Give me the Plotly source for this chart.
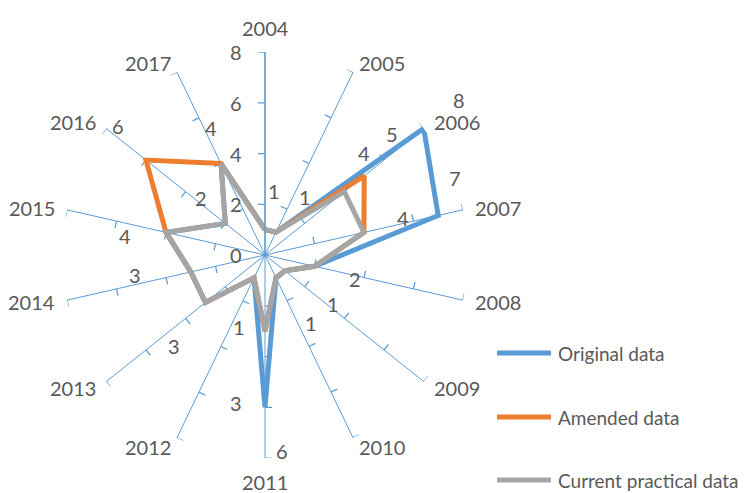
import math
import plotly.graph_objects as go

# Years around the radar, clockwise from the top
years = ["2004", "2005", "2006", "2007", "2008", "2009", "2010",
         "2011", "2012", "2013", "2014", "2015", "2016", "2017"]

original_data = [1, 1, 8, 7, 2, 1, 1, 6, 1, 3, 3, 4, 2, 4]
amended_data = [1, 1, 5, 4, 2, 1, 1, 3, 1, 3, 3, 4, 6, 4]
current_data = [1, 1, 4, 4, 2, 1, 1, 3, 1, 3, 3, 4, 2, 4]

radial_ticks = [0, 2, 4, 6, 8]
r_max = 8

# Value labels: which series / year they show, and where each is placed (r, angle in degrees)
label_series = ["cur", "cur", "cur", "amd", "org", "org", "cur", "cur", "cur", "cur",
                "cur", "org", "cur", "cur", "cur", "cur", "amd", "cur", "cur"]
label_year = ["2004", "2005", "2006", "2006", "2006", "2007", "2007", "2008", "2009", "2010",
              "2011", "2011", "2012", "2013", "2014", "2015", "2016", "2016", "2017"]
label_r = [2.55, 2.78, 5.6, 6.9, 9.78, 8.08, 5.63, 3.67, 3.3, 3.24,
           5.95, 7.76, 3.0, 5.07, 5.2, 5.57, 7.7, 3.38, 5.44]
label_angle = [8, 34.6, 44.1, 46.4, 51.3, 67.9, 75, 105, 125.8, 145.9,
               191.1, 175, 199.9, 225, 261.3, 277.7, 311.3, 311.7, 337]

BLUE = "#5B9BD5"
ORANGE = "#ED7D31"
GRAY = "#A5A5A5"
TEXT = "#595959"
FONT = "Lato"

W, H = 745, 493
cx, cy, rad_px = 265, 255, 203

step = 360 / len(years)
angles = [i * step for i in range(len(years))]


def to_paper(r, a):
    """Paper coordinates of a point given in radial units and clockwise degrees from the top."""
    px = cx + r / r_max * rad_px * math.sin(math.radians(a))
    py = cy - r / r_max * rad_px * math.cos(math.radians(a))
    return px / W, 1 - py / H


fig = go.Figure()

# Small tick marks on every spoke, on the counter-clockwise side
tick_len = 7 / rad_px * r_max
tr, tt = [], []
for a in angles:
    for v in radial_ticks[1:]:
        tr += [v, math.hypot(v, tick_len), None]
        tt += [a, a - math.degrees(math.atan(tick_len / v)), None]
fig.add_trace(go.Scatterpolar(r=tr, theta=tt, mode="lines",
                              line=dict(color=BLUE, width=1.25),
                              hoverinfo="skip", showlegend=False, cliponaxis=False))

series = [("Original data", original_data, BLUE),
          ("Amended data", amended_data, ORANGE),
          ("Current practical data", current_data, GRAY)]
for name, vals, col in series:
    fig.add_trace(go.Scatterpolar(
        r=vals + vals[:1], theta=angles + angles[:1], mode="lines", name=name,
        line=dict(color=col, width=5), showlegend=False, cliponaxis=False))

txt_font = dict(family=FONT, size=20, color=TEXT)

# Value labels
lookup = {"org": original_data, "amd": amended_data, "cur": current_data}
for s, y, r, a in zip(label_series, label_year, label_r, label_angle):
    x, yy = to_paper(r, a)
    fig.add_annotation(x=x, y=yy, xref="paper", yref="paper", showarrow=False,
                       text=str(lookup[s][years.index(y)]), font=txt_font,
                       xanchor="center", yanchor="middle")

# Year labels just beyond the end of each spoke
gap = 10 / rad_px * r_max
for a, yr in zip(angles, years):
    x, yy = to_paper(r_max + gap, a)
    if a == 0:
        xa, ya = "center", "bottom"
    elif a == 180:
        xa, ya = "center", "top"
    elif a < 180:
        xa, ya = "left", "middle"
    else:
        xa, ya = "right", "middle"
    fig.add_annotation(x=x, y=yy, xref="paper", yref="paper", showarrow=False,
                       text=yr, font=txt_font, xanchor=xa, yanchor=ya)

# Radial scale along the top spoke, to its left
for v in radial_ticks:
    x, yy = to_paper(v, 0)
    fig.add_annotation(x=x - 29 / W, y=yy, xref="paper", yref="paper", showarrow=False,
                       text=str(v), font=txt_font, xanchor="center", yanchor="middle")

fig.update_layout(
    width=W, height=H,
    margin=dict(l=0, r=0, t=0, b=0),
    paper_bgcolor="white",
    font=txt_font,
    polar=dict(
        domain=dict(x=[(cx - rad_px) / W, (cx + rad_px) / W],
                    y=[1 - (cy + rad_px) / H, 1 - (cy - rad_px) / H]),
        bgcolor="white",
        radialaxis=dict(range=[0, r_max], tickvals=radial_ticks, angle=90,
                        showgrid=False, showline=True, linecolor=BLUE, linewidth=1.25,
                        ticks="", showticklabels=False),
        angularaxis=dict(type="linear", thetaunit="degrees", rotation=90,
                         direction="clockwise", tickmode="array",
                         tickvals=angles, ticktext=years, showline=False,
                         showgrid=True, gridcolor=BLUE, gridwidth=1.25,
                         ticks="", showticklabels=False),
    ),
)

# Legend drawn at the right
leg_rows = [353, 417, 480]
for (name, _, col), yy in zip(series, leg_rows):
    fig.add_shape(type="line", xref="paper", yref="paper",
                  x0=497 / W, x1=551 / W, y0=1 - yy / H, y1=1 - yy / H,
                  line=dict(color=col, width=5))
    fig.add_annotation(x=556 / W, y=1 - yy / H, xref="paper", yref="paper",
                       text=name, showarrow=False, xanchor="left", yanchor="middle",
                       font=dict(family=FONT, size=19, color=TEXT))

fig.write_html("out.html")
